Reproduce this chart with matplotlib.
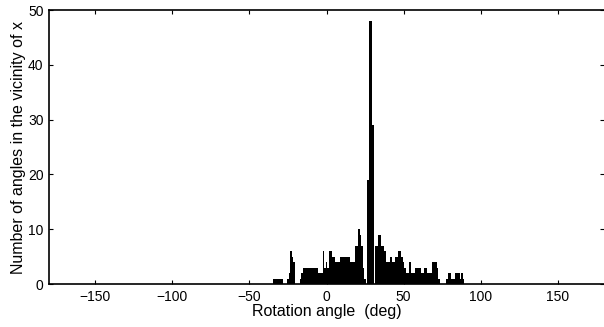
import matplotlib.pyplot as plt

# centros de los bins (grados) y conteos
angles = list(range(-34, 90))
counts = [
    # -34 .. -1
    1, 1, 1, 1, 1, 1, 0, 0, 0, 1, 2, 6, 5, 4, 0, 0, 0, 1, 2,
    3, 3, 3, 3, 3, 3, 3, 3, 3, 3, 2, 2, 2, 6, 3,
    # 0 .. 31
    4, 3, 6, 6, 5, 5, 4, 4, 4, 5, 5, 5, 5, 5, 5, 5, 4, 4, 4, 7,
    7, 10, 9, 7, 3, 1, 0, 19, 48, 48, 29, 0,
    # 32 .. 89
    7, 7, 9, 9, 7, 7, 6, 4, 4, 4, 5, 4, 4, 5, 5, 6, 6, 5, 4, 3,
    2, 2, 4, 2, 2, 2, 3, 3, 3, 3, 2, 2, 3, 3, 2, 2, 2, 4, 4, 4,
    3, 1, 0, 0, 0, 0, 1, 2, 2, 1, 1, 1, 2, 2, 2, 1, 2, 1,
]
xticks = [-150, -100, -50, 0, 50, 100, 150]
yticks = [0, 10, 20, 30, 40, 50]

plt.rcParams['font.family'] = ['Liberation Sans', 'DejaVu Sans']

fig = plt.figure(figsize=(6.04, 3.27), dpi=100)
ax = fig.add_axes([49 / 604, 43 / 327, 555 / 604, 274 / 327])

ax.bar(angles, counts, width=1.0, color='black', linewidth=0)

ax.set_xlim(-180, 180)
ax.set_ylim(0, 50)
ax.set_xticks(xticks)
ax.set_yticks(yticks)
ax.tick_params(direction='in', length=3, width=0.8, top=True, right=True,
               labelsize=10, pad=4)
for s in ax.spines.values():
    s.set_linewidth(1.2)
ax.spines['right'].set_linewidth(0.5)
ax.spines['right'].set_color('0.6')

ax.set_xlabel('Rotation angle  (deg)', fontsize=11.5, labelpad=0)
ax.set_ylabel('Number of angles in the vicinity of x', fontsize=11.5, labelpad=1)

fig.savefig('out.png', dpi=100)
